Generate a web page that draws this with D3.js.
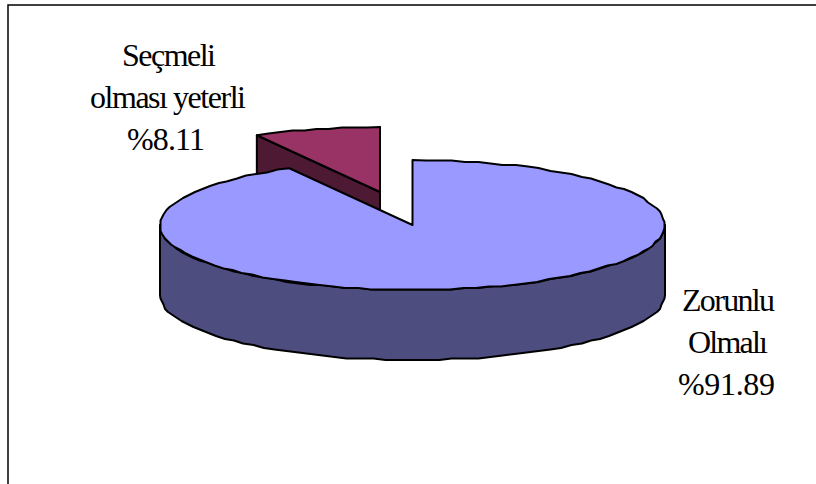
<!DOCTYPE html>
<html><head><meta charset="utf-8">
<script src="https://cdn.jsdelivr.net/npm/d3@7"></script>
<style>html,body{margin:0;padding:0;background:#fff}svg{display:block}</style>
</head><body><svg width="816" height="484"></svg>
<script>
const categories = ["Zorunlu Olmalı", "Seçmeli olması yeterli"];
const shares = [91.89, 8.11];
const labelLines = [["Zorunlu", "Olmalı", "%91.89"], ["Seçmeli", "olması yeterli", "%8.11"]];
const lineWidths = [[93, 80, 97], [94, 156, 78]];
const lineCentres = [[728.5, 728, 726.5], [169, 168, 166]];
const labelBaselines = [311, 66];
const topColors = ["#9999ff", "#993366"];
const sideColors = ["#4d4d80", "#4d1933"];

const svg = d3.select("svg");
// Chart area border: only the top and left edges fall inside the frame.
svg.append("path").attr("d", "M8,484V5H816").attr("fill", "none").attr("stroke", "#000").attr("stroke-width", 1.5);

const xs = d3.scaleLinear().domain([-1, 1]).range([-252.5, 252.5]);
const ys = d3.scaleLinear().domain([-1, 1]).range([65, -65]);
const depth = 70;
const explode = [[412.5, 225], [380, 192]];

const arcs = d3.pie().sort(null).startAngle(0).endAngle(2 * Math.PI)(shares);
// Rim vertices snap to a coarse grid, which gives the outline its slightly rough edge.
const snap = v => Math.round(v / 1.5) * 1.5;
const line = d3.line().x(p => p[0]).y(p => p[1]);
const rimPoint = (a, c, dy = 0) => [c[0] + xs(Math.sin(a)), c[1] + ys(Math.cos(a)) + dy];
const rim = (a0, a1, c, dy = 0) => {
  const n = Math.max(6, Math.round(Math.abs(a1 - a0) / (Math.PI / 60)));
  return d3.range(0, n + 1).map(i => {
    const p = rimPoint(a0 + (a1 - a0) * i / n, c, dy);
    return i === 0 || i === n ? p : [snap(p[0]), snap(p[1])];
  });
};

const stroke = sel => sel.attr("stroke", "#000").attr("stroke-width", 2).attr("stroke-linejoin", "round");

function drawSlice(i, sideOf) {
  const d = arcs[i], c = explode[i];
  sideOf.forEach(part => {
    stroke(svg.append("path")).attr("fill", sideColors[i]).attr("d", line(part(d, c)) + "Z");
  });
  stroke(svg.append("path")).attr("fill", topColors[i])
    .attr("d", line([c, ...rim(d.startAngle, d.endAngle, c)]) + "Z");
}

// Back slice: only its two cut faces show behind the front slice.
drawSlice(1, [
  (d, c) => [rimPoint(d.startAngle, c), c, [c[0], c[1] + depth], rimPoint(d.startAngle, c, depth)],
  (d, c) => [c, rimPoint(d.endAngle, c), rimPoint(d.endAngle, c, depth), [c[0], c[1] + depth]]
]);
// Front slice: the outer wall runs from the right extreme to the left extreme.
drawSlice(0, [
  (d, c) => [...rim(Math.PI / 2, 3 * Math.PI / 2, c), ...rim(Math.PI / 2, 3 * Math.PI / 2, c, depth).reverse()]
]);

labelLines.forEach((lines, i) => {
  svg.append("g").selectAll("text").data(lines).join("text")
    .attr("font-family", "'Liberation Serif'").attr("font-size", 32).attr("fill", "#000")
    .attr("x", (t, k) => lineCentres[i][k] - lineWidths[i][k] / 2)
    .attr("y", (t, k) => labelBaselines[i] + k * 42)
    .attr("textLength", (t, k) => lineWidths[i][k])
    .attr("lengthAdjust", "spacing")
    .text(t => t);
});
</script></body></html>
